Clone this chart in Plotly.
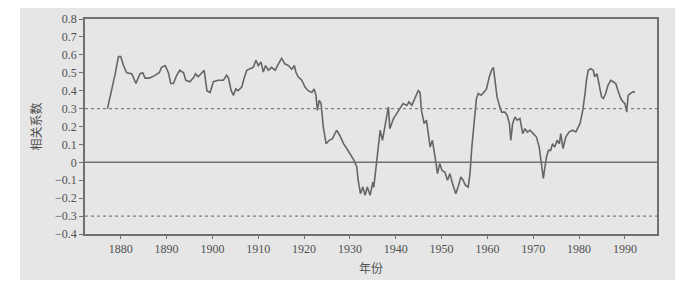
import plotly.graph_objects as go

years = [1877.1, 1878.0, 1878.8, 1879.5, 1880.0, 1880.6, 1881.3, 1882.4, 1883.3, 1884.2,
         1884.8, 1885.3, 1886.2, 1887.1, 1887.9, 1888.4, 1888.9, 1889.7, 1890.4, 1890.9,
         1891.5, 1892.2, 1892.9, 1893.7, 1894.2, 1895.1, 1896.0, 1896.3, 1896.9, 1897.7,
         1898.2, 1898.8, 1899.5, 1900.2, 1901.3, 1902.4, 1903.1, 1903.5, 1904.1, 1904.6,
         1905.1, 1905.6, 1906.4, 1907.0, 1907.5, 1908.2, 1908.9, 1909.5, 1910.0, 1910.6,
         1911.1, 1911.6, 1912.2, 1912.9, 1913.7, 1914.4, 1915.1, 1915.8, 1916.6, 1917.3,
         1917.9, 1918.2, 1918.7, 1919.5, 1920.2, 1920.9, 1921.7, 1922.2, 1922.6, 1922.9,
         1923.3, 1923.7, 1924.2, 1924.8, 1925.5, 1926.2, 1927.1, 1927.8, 1928.6, 1929.3,
         1930.2, 1930.9, 1931.5, 1931.8, 1932.3, 1932.8, 1933.3, 1933.8, 1934.4, 1935.0,
         1935.2, 1935.7, 1936.2, 1936.6, 1937.1, 1937.9, 1938.4, 1938.7, 1939.5, 1940.2,
         1940.9, 1941.6, 1942.4, 1942.9, 1943.5, 1944.2, 1944.9, 1945.3, 1945.6, 1946.2,
         1946.7, 1947.1, 1947.5, 1948.0, 1948.4, 1948.8, 1949.1, 1949.6, 1950.1, 1950.7,
         1951.3, 1951.8, 1952.4, 1953.1, 1953.6, 1954.2, 1954.7, 1955.2, 1955.8, 1956.2,
         1956.6, 1956.9, 1957.3, 1957.6, 1958.0, 1958.6, 1959.3, 1959.8, 1960.4, 1960.9,
         1961.3, 1961.6, 1962.1, 1962.6, 1963.1, 1963.8, 1964.3, 1964.8, 1965.1, 1965.5,
         1966.0, 1966.5, 1967.1, 1967.7, 1968.2, 1968.7, 1969.3, 1970.0, 1970.7, 1971.3,
         1971.7, 1971.9, 1972.2, 1972.5, 1972.9, 1973.3, 1973.8, 1974.2, 1974.7, 1975.2,
         1975.7, 1976.0, 1976.5, 1977.1, 1977.8, 1978.6, 1979.3, 1980.2, 1980.8, 1981.3,
         1981.6, 1982.0, 1982.5, 1983.1, 1983.4, 1983.9, 1984.4, 1984.9, 1985.3, 1985.8,
         1986.3, 1986.9, 1987.4, 1988.0, 1988.5, 1989.1, 1989.6, 1990.0, 1990.4, 1990.7,
         1991.2, 1991.8, 1992.2]

corr = [0.30, 0.40, 0.495, 0.59, 0.59, 0.54, 0.50, 0.495, 0.44, 0.495,
        0.50, 0.47, 0.47, 0.48, 0.495, 0.50, 0.53, 0.54, 0.50, 0.44,
        0.44, 0.486, 0.514, 0.50, 0.458, 0.45, 0.477, 0.495, 0.477, 0.504,
        0.514, 0.40, 0.39, 0.45, 0.458, 0.458, 0.486, 0.47, 0.40, 0.374,
        0.41, 0.40, 0.42, 0.477, 0.514, 0.523, 0.53, 0.57, 0.54, 0.56,
        0.504, 0.54, 0.514, 0.53, 0.514, 0.55, 0.58, 0.55, 0.54, 0.52,
        0.54, 0.504, 0.477, 0.458, 0.42, 0.40, 0.39, 0.41, 0.374, 0.29,
        0.346, 0.33, 0.197, 0.104, 0.123, 0.132, 0.179, 0.15, 0.104, 0.077,
        0.04, 0.011, -0.026, -0.10, -0.175, -0.138, -0.184, -0.138, -0.184, -0.11,
        -0.14, -0.026, 0.123, 0.179, 0.123, 0.253, 0.309, 0.188, 0.244, 0.272,
        0.30, 0.328, 0.318, 0.337, 0.318, 0.356, 0.40, 0.39, 0.29, 0.216,
        0.235, 0.16, 0.085, 0.123, 0.067, -0.007, -0.063, -0.007, -0.045, -0.054,
        -0.10, -0.063, -0.12, -0.175, -0.138, -0.082, -0.10, -0.128, -0.138, -0.063,
        0.085, 0.179, 0.253, 0.356, 0.384, 0.374, 0.393, 0.41, 0.477, 0.514,
        0.53, 0.477, 0.365, 0.318, 0.28, 0.28, 0.263, 0.216, 0.123, 0.216,
        0.253, 0.235, 0.244, 0.16, 0.188, 0.169, 0.179, 0.16, 0.141, 0.085,
        0.011, -0.054, -0.09, -0.035, 0.03, 0.067, 0.067, 0.104, 0.085, 0.123,
        0.104, 0.16, 0.077, 0.141, 0.169, 0.179, 0.17, 0.216, 0.29, 0.384,
        0.458, 0.514, 0.523, 0.514, 0.477, 0.495, 0.42, 0.365, 0.356, 0.384,
        0.43, 0.458, 0.45, 0.44, 0.40, 0.356, 0.337, 0.328, 0.28, 0.374,
        0.384, 0.393, 0.393]

x_ticks = [1880, 1890, 1900, 1910, 1920, 1930, 1940, 1950, 1960, 1970, 1980, 1990]
y_ticks = [-0.4, -0.3, -0.2, -0.1, 0, 0.1, 0.2, 0.3, 0.4, 0.5, 0.6, 0.7, 0.8]
y_tick_text = ["\u22120.4", "\u22120.3", "\u22120.2", "\u22120.1", "0", "0.1", "0.2",
               "0.3", "0.4", "0.5", "0.6", "0.7", "0.8"]
ref_levels = [0.3, -0.3]

bg = "#e6e6e6"
ink = "#666666"
text_col = "#505050"
serif = "Liberation Serif"
cjk = "Noto Sans CJK SC"

fig = go.Figure()
fig.add_trace(go.Scatter(x=years, y=corr, mode="lines",
                         line=dict(color=ink, width=1.6), showlegend=False,
                         hoverinfo="skip"))

# background panel (scanned page)
fig.add_shape(type="rect", xref="paper", yref="paper",
              x0=-0.1136, x1=1.0315, y0=-0.214, y1=1.051,
              fillcolor=bg, line=dict(width=0), layer="below")
# zero line
fig.add_hline(y=0, line=dict(color="#707070", width=1.5))
for lv in ref_levels:
    fig.add_hline(y=lv, line=dict(color="#808080", width=1.2, dash="dot"))

fig.update_layout(
    template="none",
    width=668, height=274,
    margin=dict(l=77, r=19, t=11, b=48, autoexpand=False),
    paper_bgcolor="white", plot_bgcolor=bg,
    font=dict(family=serif, size=12, color=text_col),
    xaxis=dict(range=[1872.2, 1997.0], tickvals=x_ticks, automargin=False,
               ticks="outside", ticklen=3, tickcolor="#707070",
               tickfont=dict(family=serif, size=12, color=text_col),
               showline=True, linecolor="#707070", linewidth=1.5, mirror=True,
               showgrid=False, zeroline=False,
               title=dict(text="年份", font=dict(family=cjk, size=12,
                                                 color=text_col), standoff=9)),
    yaxis=dict(range=[-0.4, 0.8], tickvals=y_ticks, ticktext=y_tick_text, automargin=False,
               ticks="outside", ticklen=4, tickcolor="#707070",
               tickfont=dict(family=serif, size=12, color=text_col),
               showline=True, linecolor="#707070", linewidth=1.5, mirror=True,
               showgrid=False, zeroline=False,
               title=dict(text="相关系数", font=dict(family=cjk, size=12,
                                                   color=text_col), standoff=11)),
)

fig.write_html("out.html")
